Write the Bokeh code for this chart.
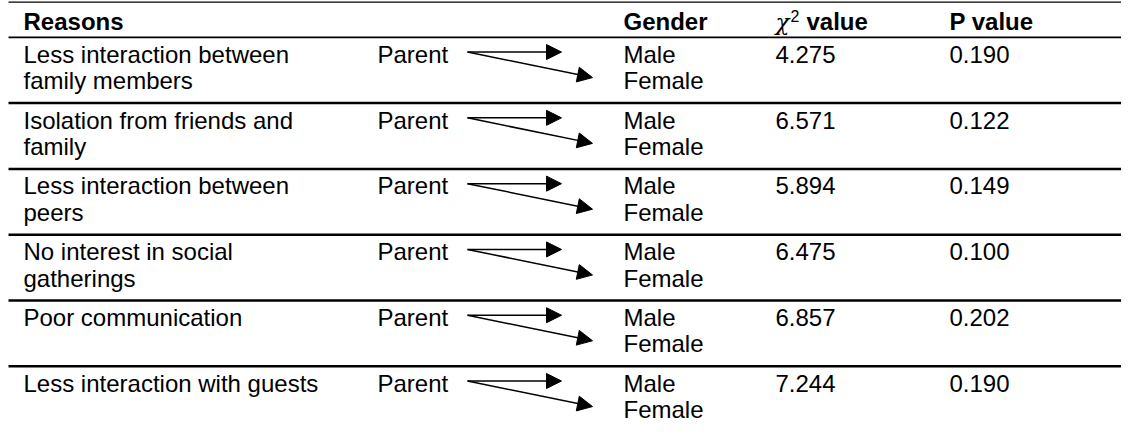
from bokeh.plotting import figure
from bokeh.models import ColumnDataSource, Range1d, Arrow, NormalHead
from bokeh.core.properties import value
from bokeh.embed import file_html
from bokeh.resources import INLINE

# ---- data ----
reasons = [
    "Less interaction between\nfamily members",
    "Isolation from friends and\nfamily",
    "Less interaction between\npeers",
    "No interest in social\ngatherings",
    "Poor communication",
    "Less interaction  with guests",
]
group = ["Parent"] * 6
genders = ["Male", "Female"]
chi2_values = ["4.275", "6.571", "5.894", "6.475", "6.857", "7.244"]
p_values = ["0.190", "0.122", "0.149", "0.100", "0.202", "0.190"]
headers = ["Reasons", "Gender", "value", "P value"]

# ---- layout (reference pixel space mapped into the figure) ----
W, H = 1121, 426
FONT = "Liberation Sans"
FSN = 24.0
FS = f"{FSN}px"
DY = -0.36 * FSN  # baseline correction for the renderer


def X(v):
    return v


def Y(v):
    return (v - 5.0) * 0.982


REF_TOP, REF_HEADER, REF_ROW = 6.7, 42.5, 67.0
X_REASON, X_PARENT, X_GENDER, X_CHI, X_P = X(23), X(377), X(623), X(775), X(949)

p = figure(width=W, height=H, x_range=Range1d(0, W), y_range=Range1d(H, 0),
           output_backend="svg", toolbar_location=None, min_border=0,
           x_axis_location=None, y_axis_location=None)
p.grid.visible = False
p.outline_line_color = None
p.background_fill_color = "white"
p.border_fill_color = "white"

n = len(reasons)
row_tops = [REF_HEADER + i * REF_ROW for i in range(n)]

# rules
x0, x1 = X(8), W
p.segment(x0=[x0], y0=[Y(REF_TOP)], x1=[x1], y1=[Y(REF_TOP)], line_color="black", line_width=1.3)
p.segment(x0=[x0], y0=[Y(REF_HEADER)], x1=[x1], y1=[Y(REF_HEADER)], line_color="black", line_width=1.6)
sep = [Y(t) for t in row_tops[1:]]
p.segment(x0=[x0] * len(sep), y0=sep, x1=[x1] * len(sep), y1=sep, line_color="black", line_width=2.5)


def txt(xs, ys, texts, bold=False, size=FS, font=FONT, style=None, dy=DY):
    src = ColumnDataSource(dict(x=xs, y=[y + dy for y in ys], t=texts))
    fs = "bold" if bold else "normal"
    if style:
        fs = style
    p.text(x="x", y="y", text="t", source=src, text_font=value(font), text_font_size=size,
           text_font_style=fs, text_color="black", text_baseline="alphabetic", text_align="left")


# header
HB = Y(35)
txt([X_REASON, X_GENDER, X_P], [HB] * 3, [headers[0], headers[1], headers[3]], bold=True)
txt([X_CHI], [HB], ["\u03c7"], font="DejaVu Serif", style="italic", size="23px", dy=-0.36 * 23)
txt([X(790)], [HB - 8], ["2"], size="16px", dy=-0.36 * 16)
txt([X(806)], [HB], [headers[2]], bold=True)

# body
l1 = [r.split("\n")[0] for r in reasons]
l2 = [r.split("\n")[1] if "\n" in r else "" for r in reasons]
b1 = [Y(t + 26) for t in row_tops]
b2 = [Y(t + 53) for t in row_tops]
txt([X_REASON] * n, b1, l1)
txt([X_REASON] * n, b2, l2)
txt([X_PARENT] * n, b1, group)
txt([X_GENDER] * n, b1, [genders[0]] * n)
txt([X_GENDER] * n, b2, [genders[1]] * n)
txt([X_CHI] * n, b1, chi2_values)
txt([X_P] * n, b1, p_values)

# arrows
for t in row_tops:
    ys = Y(t + 15)
    p.add_layout(Arrow(end=NormalHead(size=15, fill_color="black", line_color="black", line_width=1),
                       x_start=X(467), y_start=ys, x_end=X(561), y_end=ys,
                       line_color="black", line_width=1.5))
    p.add_layout(Arrow(end=NormalHead(size=15, fill_color="black", line_color="black", line_width=1),
                       x_start=X(467), y_start=ys, x_end=X(592), y_end=Y(t + 41),
                       line_color="black", line_width=1.5))

open("out.html", "w").write(file_html(p, INLINE))
